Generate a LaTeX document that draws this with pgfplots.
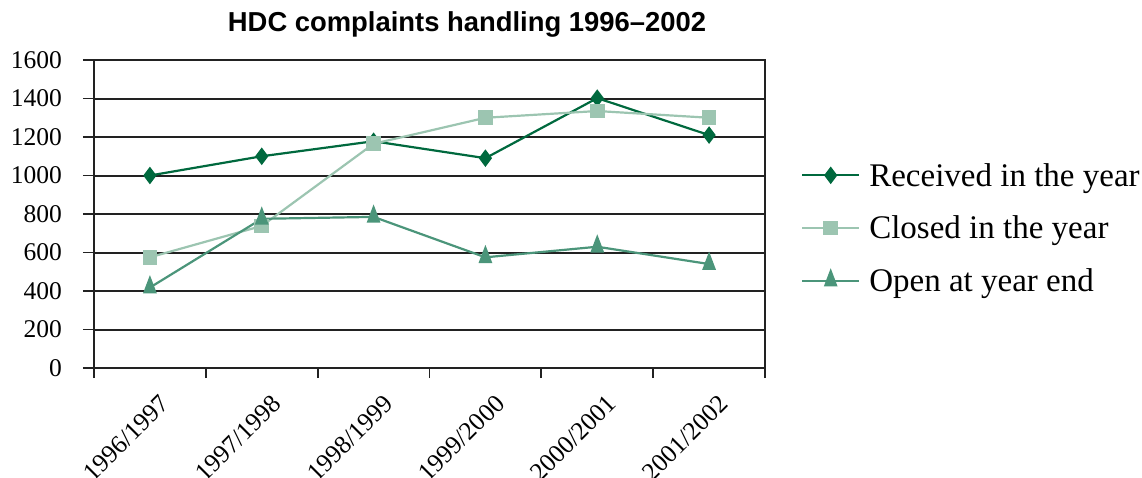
\documentclass[border=0pt]{standalone}
\usepackage{pgfplots}
\pgfplotsset{compat=1.18}
\usepackage{fontspec}
\setmainfont{Liberation Serif}
\newfontfamily\titlefont{Liberation Sans}
\definecolor{rec}{HTML}{00693E}
\definecolor{clo}{HTML}{9CC5B1}
\definecolor{opn}{HTML}{4B957A}
\definecolor{gridc}{HTML}{222222}
\begin{document}
\begin{tikzpicture}
\path[use as bounding box] (0pt,0pt) rectangle (1142pt,-477pt);
\begin{axis}[
  at={(94pt,-368pt)}, anchor=south west,
  scale only axis, width=671pt, height=308pt,
  xmin=0, xmax=6, ymin=0, ymax=1600,
  xtick={0.5,1.5,2.5,3.5,4.5,5.5},
  xticklabels={1996/1997,1997/1998,1998/1999,1999/2000,2000/2001,2001/2002},
  minor xtick={0,1,2,3,4,5,6},
  ytick={0,200,400,600,800,1000,1200,1400,1600},
  tick pos=left,
  ymajorgrids,
  major grid style={line width=2pt, color=gridc},
  axis line style={line width=2pt, color=gridc},
  tick align=outside,
  major tick length=11pt, minor tick length=10pt,
  tick style={line width=1.8pt, color=gridc},
  major x tick style={draw=none},
  /pgf/number format/assume math mode=true,
  /pgf/number format/1000 sep={},
  yticklabel style={font=\fontsize{25.5}{30}\selectfont, inner sep=0pt, anchor=east, xshift=-21pt},
  xticklabel style={font=\fontsize{25.5}{30}\selectfont, inner sep=0pt, rotate=45, anchor=east, xshift=-4pt, yshift=-25pt},
  clip=false,
  legend style={at={(1.0535,0.45)}, anchor=west, draw=none, fill=none,
    font=\fontsize{33}{40}\selectfont, row sep=25.5pt, inner sep=0pt,
    nodes={inner sep=0pt}, column sep=9pt},
  legend cell align=left,
  legend image code/.code={
    \path[draw=none,fill=none] (0pt,-15pt) -- (0pt,6pt);
    \draw[mark repeat=2,mark phase=2,#1] plot coordinates {(0pt,0pt) (28.5pt,0pt) (57pt,0pt)};},
]
\addplot[rec, line width=2.2pt, mark=diamond*, mark size=7pt, mark options={solid}] coordinates {
  (0.5,1000) (1.5,1100) (2.5,1178) (3.5,1090) (4.5,1402) (5.5,1210)};
\addlegendentry{Received in the year}
\addplot[clo, line width=2.2pt, mark=square*, mark size=6.3pt] coordinates {
  (0.5,575) (1.5,738) (2.5,1165) (3.5,1300) (4.5,1335) (5.5,1300)};
\addlegendentry{Closed in the year}
\addplot[opn, line width=2.2pt, mark=triangle*, mark size=7.5pt, mark options={xscale=0.82, yscale=1.25}] coordinates {
  (0.5,418) (1.5,775) (2.5,785) (3.5,575) (4.5,630) (5.5,540)};
\addlegendentry{Open at year end}
\end{axis}
\node[font=\titlefont\bfseries\fontsize{27.4}{32}\selectfont, anchor=base] at (467pt,-31.5pt) {HDC complaints handling 1996–2002};
\end{tikzpicture}
\end{document}
